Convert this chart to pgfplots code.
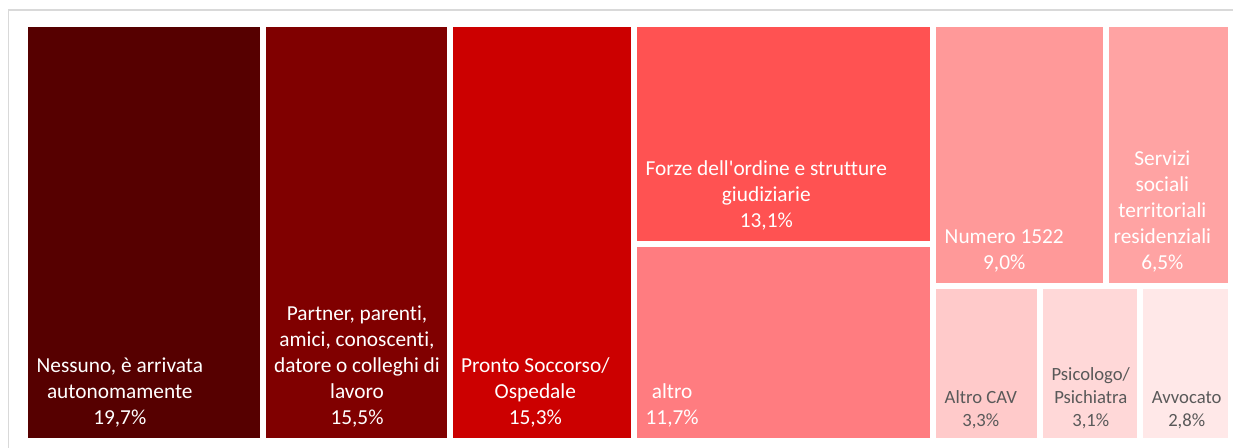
\documentclass[border=0pt]{standalone}
\usepackage{pgfplots}
\pgfplotsset{compat=1.18}
\usepackage{fontspec}
\setmainfont{Carlito}[Ligatures={NoCommon}]
\definecolor{c1}{HTML}{560000}
\definecolor{c2}{HTML}{800000}
\definecolor{c3}{HTML}{CC0000}
\definecolor{c4}{HTML}{FF5252}
\definecolor{c5}{HTML}{FF7C80}
\definecolor{c6}{HTML}{FF9999}
\definecolor{c7}{HTML}{FFA3A3}
\definecolor{c8}{HTML}{FFCACA}
\definecolor{c9}{HTML}{FFD8D8}
\definecolor{c10}{HTML}{FFE8E8}
\definecolor{greytxt}{HTML}{595959}
\definecolor{frame}{HTML}{D9D9D9}
\newcommand{\mainlbl}{\fontsize{16}{19.5}\selectfont}
\newcommand{\smalllbl}{\fontsize{14}{17.25}\selectfont}
\begin{document}
\begin{tikzpicture}[x=1pt,y=1pt]
\path[use as bounding box] (0,0) rectangle (924.75,336);
\draw[color=frame, line width=1.2pt] (6.4,-2) -- (6.4,328.5) -- (930,328.5);
\begin{axis}[at={(18.75pt,5.25pt)}, anchor=south west, scale only axis,
  width=904.5pt, height=312.75pt, xmin=0, xmax=100, ymin=0, ymax=1,
  axis lines=none, ticks=none, clip=false,
  every axis plot/.append style={draw=white, line width=4.5pt, line join=miter}]
% Nessuno 19.7
\addplot[fill=c1] coordinates {(0,0) (19.7,0) (19.7,1) (0,1)} --cycle;
% Partner 15.5
\addplot[fill=c2] coordinates {(19.7,0) (35.2,0) (35.2,1) (19.7,1)} --cycle;
% Pronto 15.3
\addplot[fill=c3] coordinates {(35.2,0) (50.5,0) (50.5,1) (35.2,1)} --cycle;
% altro 11.7
\addplot[fill=c5] coordinates {(50.5,0) (75.3,0) (75.3,0.47177) (50.5,0.47177)} --cycle;
% Forze 13.1
\addplot[fill=c4] coordinates {(50.5,0.47177) (75.3,0.47177) (75.3,1) (50.5,1)} --cycle;
% Numero 1522 9.0
\addplot[fill=c6] coordinates {(75.3,0.37247) (89.642,0.37247) (89.642,1) (75.3,1)} --cycle;
% Servizi 6.5
\addplot[fill=c7] coordinates {(89.642,0.37247) (100,0.37247) (100,1) (89.642,1)} --cycle;
% Altro CAV 3.3
\addplot[fill=c8] coordinates {(75.3,0) (84.160,0) (84.160,0.37247) (75.3,0.37247)} --cycle;
% Psicologo 3.1
\addplot[fill=c9] coordinates {(84.160,0) (92.483,0) (92.483,0.37247) (84.160,0.37247)} --cycle;
% Avvocato 2.8
\addplot[fill=c10] coordinates {(92.483,0) (100,0) (100,0.37247) (92.483,0.37247)} --cycle;

\begin{scope}[every node/.style={anchor=south west, inner sep=0pt, align=center, text=white, font=\mainlbl, xshift=8.5pt, yshift=10.2pt}]
\node at (axis cs:0,0) {Nessuno, è arrivata\\autonomamente\\19,7\%};
\node at (axis cs:19.7,0) {Partner, parenti,\\amici, conoscenti,\\datore o colleghi di\\lavoro\\15,5\%};
\node at (axis cs:35.2,0) {Pronto Soccorso/\\Ospedale\\15,3\%};
\node at (axis cs:50.5,0) {altro\\11,7\%};
\node at (axis cs:50.5,0.47177) {Forze dell\textquotesingle ordine e strutture\\giudiziarie\\13,1\%};
\node at (axis cs:75.3,0.37247) {Numero 1522\\9,0\%};
\node[xshift=-3pt] at (axis cs:89.642,0.37247) {Servizi\\sociali\\territoriali\\residenziali\\6,5\%};
\end{scope}
\begin{scope}[every node/.style={anchor=south west, inner sep=0pt, align=center, text=greytxt, font=\smalllbl, xshift=8.5pt, yshift=8.6pt}]
\node at (axis cs:75.3,0) {Altro CAV\\3,3\%};
\node at (axis cs:84.160,0) {Psicologo/\\Psichiatra\\3,1\%};
\node at (axis cs:92.483,0) {Avvocato\\2,8\%};
\end{scope}
\end{axis}
\end{tikzpicture}
\end{document}
